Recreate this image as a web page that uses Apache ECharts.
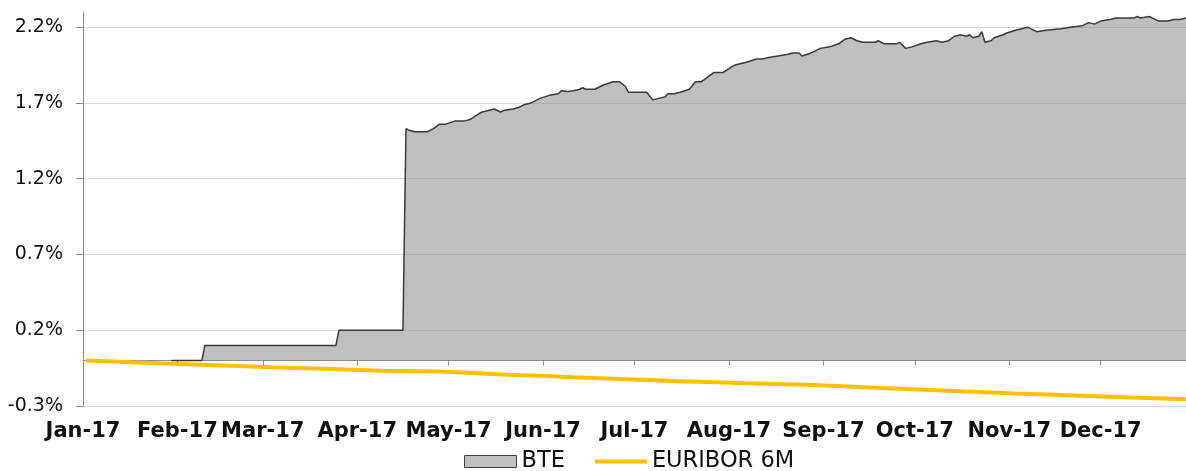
<!DOCTYPE html>
<html><head><meta charset="utf-8">
<script src="https://cdn.jsdelivr.net/npm/echarts@6/dist/echarts.min.js"></script>
<style>html,body{margin:0;padding:0;background:#fff}#chart{width:1186px;height:471px}</style>
</head><body><div id="chart"></div>
<script>
const year = 2017;
const monthLabels = ['Jan-17','Feb-17','Mar-17','Apr-17','May-17','Jun-17','Jul-17','Aug-17','Sep-17','Oct-17','Nov-17','Dec-17'];
const yTicks = [-0.3, 0.2, 0.7, 1.2, 1.7, 2.2];

const bteDates = ['01-30','02-09','02-10','03-25','03-26','04-16','04-17','04-18','04-20','04-23','04-24','04-26','04-28','04-30',
  '05-03','05-06','05-08','05-11','05-12','05-14','05-16','05-18','05-19','05-22','05-24','05-26','05-28','05-31',
  '06-03','06-06','06-07','06-09','06-11','06-13','06-14','06-15','06-18','06-20','06-21','06-24','06-26','06-28','06-29',
  '07-04','07-05','07-07','07-09','07-11','07-12','07-14','07-16','07-19','07-21','07-23','07-25','07-27','07-30',
  '08-02','08-03','08-05','08-07','08-10','08-12','08-14','08-17','08-20','08-22','08-24','08-25','08-28','08-31',
  '09-03','09-06','09-08','09-10','09-12','09-14','09-18','09-19','09-21','09-25','09-26','09-28','09-30',
  '10-03','10-05','10-08','10-10','10-12','10-14','10-16','10-18','10-19','10-20','10-22','10-23','10-24','10-26','10-27','10-30','10-31',
  '11-03','11-05','11-07','11-08','11-10','11-13','11-18','11-21','11-25','11-27','11-29',
  '12-01','12-04','12-06','12-12','12-13','12-14','12-17','12-18','12-20','12-23','12-25','12-27','12-29'];
const bteValues = [0,0,0.1,0.1,0.2,0.2,1.53,1.52,1.51,1.51,1.51,1.53,1.56,1.56,
  1.58,1.58,1.59,1.63,1.64,1.65,1.66,1.64,1.65,1.66,1.67,1.69,1.70,1.73,
  1.75,1.76,1.78,1.775,1.78,1.79,1.80,1.79,1.79,1.81,1.82,1.84,1.84,1.81,1.77,
  1.77,1.77,1.72,1.73,1.74,1.76,1.76,1.77,1.79,1.84,1.84,1.87,1.90,1.90,
  1.94,1.95,1.96,1.97,1.99,1.99,2.00,2.01,2.02,2.03,2.03,2.01,2.03,2.06,
  2.07,2.09,2.12,2.13,2.11,2.10,2.10,2.11,2.09,2.09,2.10,2.06,2.07,
  2.09,2.10,2.11,2.10,2.11,2.14,2.15,2.14,2.15,2.13,2.14,2.17,2.10,2.11,2.13,2.15,2.16,
  2.18,2.19,2.20,2.19,2.17,2.18,2.19,2.20,2.21,2.23,2.22,
  2.24,2.25,2.26,2.26,2.27,2.26,2.27,2.26,2.24,2.24,2.25,2.25,2.26];

const euriborDates = ['01-02','01-17','02-01','02-19','03-04','03-24','04-09','04-28','05-09','05-20','05-31','06-11','06-22',
  '07-03','07-13','07-25','08-04','08-29','09-20','10-12','11-03','11-25','12-11','12-27','12-29'];
const euriborValues = [0.00,-0.012,-0.023,-0.034,-0.045,-0.056,-0.067,-0.072,-0.082,-0.093,-0.100,-0.111,-0.118,
  -0.126,-0.135,-0.142,-0.148,-0.162,-0.181,-0.199,-0.217,-0.232,-0.244,-0.254,-0.255];

const toTime = s => { const p = s.split('-').map(Number); return new Date(year, p[0]-1, p[1]).getTime(); };
const monthStarts = monthLabels.map((_, i) => new Date(year, i, 1).getTime());
const xMin = new Date(year, 0, 1).getTime();
const xMax = new Date(year, 11, 29).getTime();
const FONT = '"DejaVu Sans", Verdana, sans-serif';

const chart = echarts.init(document.getElementById('chart'), null, {renderer: 'canvas'});
chart.setOption({
  animation: false,
  backgroundColor: '#ffffff',
  textStyle: {fontFamily: FONT},
  grid: {left: 83, right: 0, top: 12, bottom: 65},
  legend: {
    left: 459, top: 445, itemWidth: 52, itemHeight: 12, itemGap: 28,
    textStyle: {fontSize: 22.5, color: '#111', fontFamily: FONT},
    data: [
      {name: 'BTE', icon: 'rect', itemStyle: {color: '#BFBFBF', borderColor: '#404040', borderWidth: 1}},
      {name: 'EURIBOR 6M', itemStyle: {opacity: 0}, lineStyle: {color: '#FFC000', width: 4}}
    ]
  },
  xAxis: [
    {
      type: 'value', min: xMin, max: xMax, position: 'bottom',
      axisLine: {show: false, onZero: false}, axisTick: {show: false}, splitLine: {show: false},
      axisLabel: {
        customValues: monthStarts,
        formatter: v => monthLabels[new Date(v).getMonth()],
        fontSize: 21, fontWeight: 'bold', color: '#111', margin: 15, fontFamily: FONT, hideOverlap: false
      }
    },
    {
      type: 'value', min: xMin, max: xMax, position: 'bottom',
      axisLine: {show: true, onZero: true, lineStyle: {color: '#8c8c8c', width: 1}},
      axisTick: {show: true, customValues: monthStarts, length: 5, lineStyle: {color: '#8c8c8c'}},
      axisLabel: {show: false}, splitLine: {show: false}
    }
  ],
  yAxis: {
    type: 'value', min: -0.3, max: 2.3, interval: 0.5,
    axisLine: {show: true, lineStyle: {color: '#8c8c8c', width: 1}},
    axisTick: {show: true, length: 7, customValues: yTicks, lineStyle: {color: '#8c8c8c'}},
    axisLabel: {
      customValues: yTicks,
      formatter: v => v.toFixed(1) + '%',
      fontSize: 19, color: '#111', margin: 20, fontFamily: FONT
    },
    splitLine: {show: true, lineStyle: {color: '#d9d9d9', width: 1}}
  },
  series: [
    {
      name: 'BTE', type: 'line', xAxisIndex: 0, symbol: 'none',
      data: bteDates.map((d, i) => [toTime(d), bteValues[i]]),
      lineStyle: {color: '#3a3a3a', width: 1.5},
      itemStyle: {color: '#BFBFBF'},
      areaStyle: {color: 'rgba(127,127,127,0.5)', opacity: 1}
    },
    {
      name: 'EURIBOR 6M', type: 'line', xAxisIndex: 0, symbol: 'none',
      data: euriborDates.map((d, i) => [toTime(d), euriborValues[i]]),
      lineStyle: {color: '#FFC000', width: 4},
      itemStyle: {color: '#FFC000'}
    }
  ]
});
</script></body></html>
